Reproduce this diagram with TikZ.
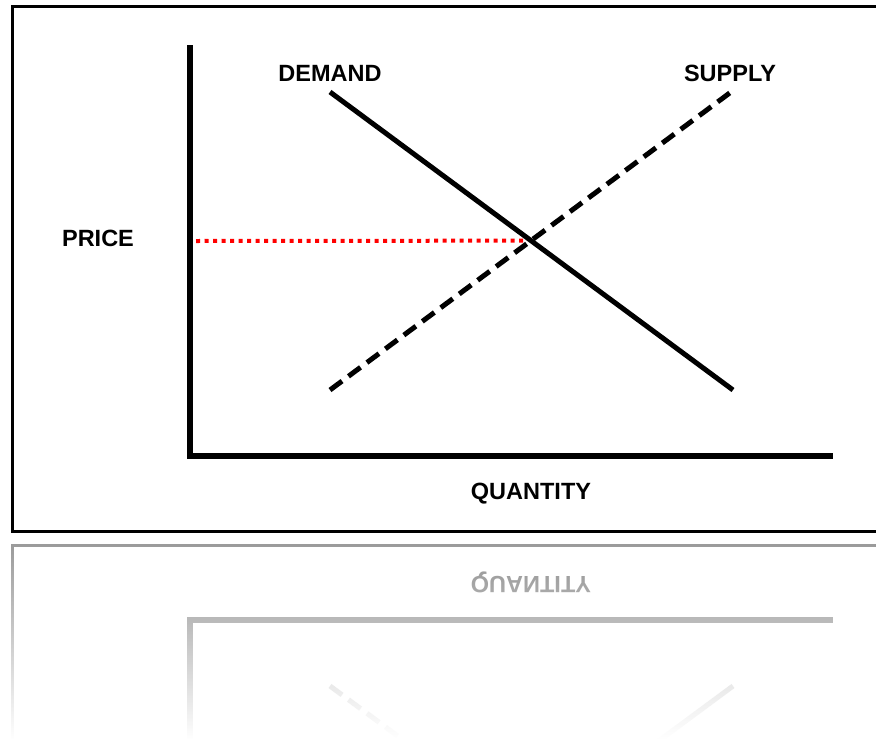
\documentclass[tikz,border=0pt]{standalone}
\usepackage{fontspec}
\setmainfont{Liberation Sans}
\usetikzlibrary{fadings}
\begin{document}
\begin{tikzpicture}[
  x=1pt, y=-1pt,
  label/.style={font=\fontsize{23.5}{27}\selectfont\bfseries, inner sep=0pt},
  frame/.style={line width=3pt},
  axis/.style={line width=5.5pt},
  demandline/.style={line width=5pt},
  supplyline/.style={line width=5pt, dash pattern=on 15pt off 8pt},
  priceline/.style={line width=4pt, red, dash pattern=on 4pt off 4.5pt},
  mirror/.style={draw=black!45, text=black!45}
]
  \useasboundingbox (0,0) rectangle (876,739);

  \draw[frame] (876,6.5) -- (12.5,6.5) -- (12.5,531) -- (876,531);

  \coordinate (ytop)   at (190,45);
  \coordinate (origin) at (190,456);
  \coordinate (xend)   at (833,456);
  \coordinate (dtop)   at (330,92);
  \coordinate (dbot)   at (733,390);
  \coordinate (sbot)   at (330,390);
  \coordinate (stop)   at (731,92);
  \coordinate (eq)     at (intersection of dtop--dbot and sbot--stop);
  \coordinate (pstart) at (196,241);

  \node[label] (demand)   at (330,73)  {DEMAND};
  \node[label] (supply)   at (730,73)  {SUPPLY};
  \node[label] (price)    at (98,238)  {PRICE};
  \node[label] (quantity) at (531,494) {QUANTITY};

  \draw[axis] (ytop) -- (origin) -- (xend);
  \draw[priceline] (pstart) -- ([xshift=-4pt]eq);
  \draw[demandline] (dtop) -- (dbot);
  \draw[supplyline] (sbot) -- (stop);

  \begin{scope}[mirror]
    \clip (0,538) rectangle (876,739);
    \coordinate (rorigin) at (190,620);
    \coordinate (rxend)   at (833,620);
    \coordinate (rybot)   at (190,760);
    \coordinate (rdtop)   at (733,686);
    \coordinate (rdbot)   at (330,984);
    \coordinate (rsbot)   at (330,686);
    \coordinate (rstop)   at (733,984);
    \draw[frame, black!40] (876,545.5) -- (12.5,545.5) -- (12.5,760);
    \node[label, yscale=-1] (rquantity) at (531,582) {QUANTITY};
    \draw[axis, black!45] (rybot) -- (rorigin) -- (rxend);
    \draw[demandline, black!30] (rdtop) -- (rdbot);
    \draw[supplyline, black!30] (rsbot) -- (rstop);
  \end{scope}
  \fill[white, path fading=north] (0,540) rectangle (876,739);
\end{tikzpicture}
\end{document}
